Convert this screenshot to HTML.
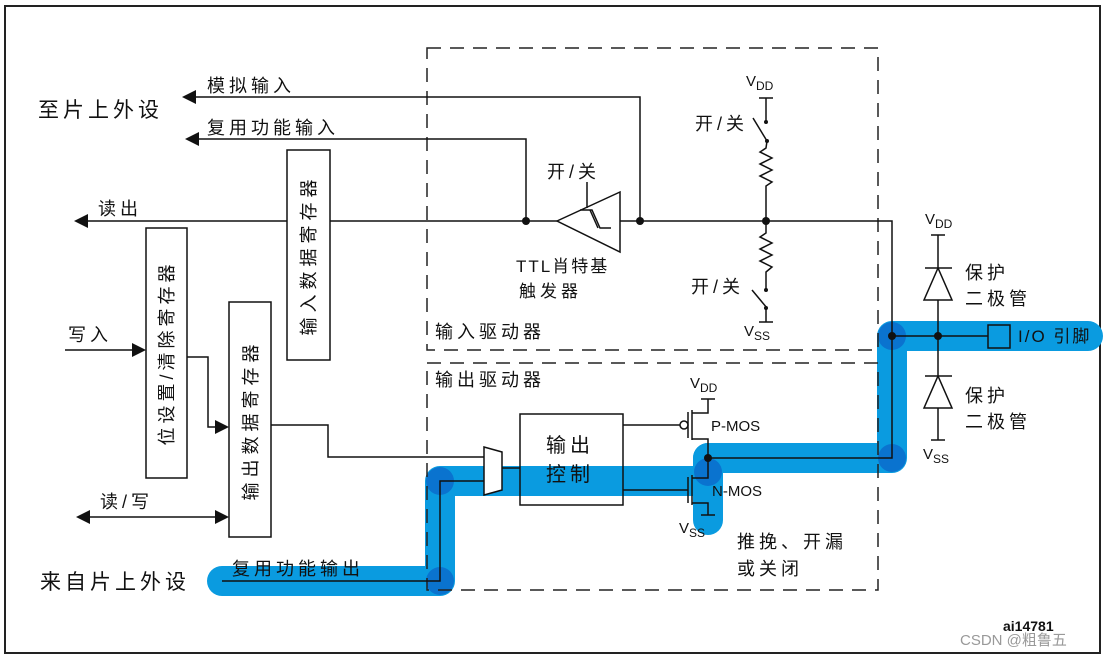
<!DOCTYPE html>
<html><head><meta charset="utf-8"><style>
html,body{margin:0;padding:0;background:#fff;}
svg{display:block;}
text{font-family:"Liberation Sans","Noto Sans CJK SC",sans-serif;fill:#111;}
.cj{letter-spacing:4px;}
</style></head><body>
<svg width="1107" height="660" viewBox="0 0 1107 660" xmlns="http://www.w3.org/2000/svg">
<rect x="5" y="6" width="1095" height="647" fill="#fff" stroke="#222" stroke-width="2"/>
<g stroke="#0a9be0" stroke-width="30" stroke-linecap="round" stroke-linejoin="round" fill="none">
<polyline points="222,581 440,581 440,481 708,481"/>
<polyline points="708,458 892,458 892,336 1088,336"/>
<line x1="708" y1="458" x2="708" y2="520"/>
</g>
<g fill="#0a62c8" opacity="0.7">
<circle cx="440" cy="581" r="14"/><circle cx="440" cy="481" r="14"/>
<circle cx="892" cy="458" r="14"/><circle cx="892" cy="336" r="14"/>
<circle cx="708" cy="472" r="14"/>
</g>
<g stroke="#222" stroke-width="1.5" fill="none" stroke-dasharray="14,9">
<rect x="427" y="48" width="451" height="302"/>
<rect x="427" y="363" width="451" height="227"/>
</g>
<g stroke="#111" stroke-width="1.5" fill="none">
<polyline points="190,97 640,97 640,220"/>
<polyline points="193,139 526,139 526,220"/>
<line x1="82" y1="221" x2="557" y2="221"/>
<polyline points="620,221 892,221 892,458 708,458"/>
<line x1="892" y1="336" x2="988" y2="336"/>
<polygon points="557,221 620,192 620,252"/>
<line x1="587" y1="182" x2="587" y2="208"/>
<polyline points="580,210 592,210 600,228 611,228"/>
<polyline points="590,210 598,228"/>
<rect x="287" y="150" width="43" height="210" fill="#fff"/>
<rect x="146" y="228" width="41" height="250" fill="#fff"/>
<rect x="229" y="302" width="42" height="235" fill="#fff"/>
<line x1="65" y1="350" x2="138" y2="350"/>
<polyline points="187,357 208,357 208,427 221,427"/>
<line x1="84" y1="517" x2="221" y2="517"/>
<polyline points="271,425 328,425 328,457 484,457"/>
<polyline points="222,581 440,581 440,481 484,481"/>
<polygon points="484,447 502,452 502,490 484,495" fill="#fff"/>
<line x1="502" y1="468" x2="520" y2="468"/>
<rect x="520" y="414" width="103" height="91" fill="none"/>
<line x1="623" y1="425" x2="680" y2="425"/>
<circle cx="684" cy="425" r="4" fill="#fff"/>
<line x1="623" y1="490" x2="688" y2="490"/>
<line x1="688" y1="412" x2="688" y2="438"/>
<line x1="692" y1="410" x2="692" y2="440"/>
<polyline points="692,413 708,413 708,399"/>
<line x1="701" y1="399" x2="715" y2="399"/>
<polyline points="692,439 708,439 708,478 692,478"/>
<line x1="688" y1="477" x2="688" y2="503"/>
<line x1="692" y1="475" x2="692" y2="505"/>
<polyline points="692,503 708,503 708,515"/>
<line x1="701" y1="515" x2="715" y2="515"/>
<line x1="759" y1="98" x2="773" y2="98"/>
<line x1="766" y1="98" x2="766" y2="122"/>
<line x1="753" y1="118" x2="767" y2="141"/>
<polyline points="767,141 766,148 760,152 772,158 760,164 772,170 760,176 772,182 766,186 766,233 760,237 772,243 760,249 772,255 760,261 772,267 766,272 766,290"/>
<line x1="752" y1="290" x2="767" y2="308"/>
<line x1="766" y1="308" x2="766" y2="322"/>
<line x1="759" y1="322" x2="773" y2="322"/>
<line x1="931" y1="235" x2="945" y2="235"/>
<line x1="938" y1="235" x2="938" y2="440"/>
<line x1="925" y1="268" x2="952" y2="268"/>
<polygon points="938,268 924,300 952,300" fill="#fff"/>
<line x1="925" y1="376" x2="952" y2="376"/>
<polygon points="938,376 924,408 952,408" fill="#fff"/>
<line x1="931" y1="440" x2="945" y2="440"/>
<rect x="988" y="325" width="22" height="23" fill="none"/>
</g>
<g fill="#111">
<circle cx="526" cy="221" r="4"/><circle cx="640" cy="221" r="4"/><circle cx="766" cy="221" r="4"/>
<circle cx="708" cy="458" r="4"/><circle cx="892" cy="336" r="4"/><circle cx="938" cy="336" r="4"/>
<circle cx="766" cy="122" r="2"/><circle cx="767" cy="141" r="2"/><circle cx="766" cy="290" r="2"/><circle cx="766" cy="308" r="2"/>
<polygon points="182,97 196,90 196,104"/>
<polygon points="185,139 199,132 199,146"/>
<polygon points="74,221 88,214 88,228"/>
<polygon points="146,350 132,343 132,357"/>
<polygon points="229,427 215,420 215,434"/>
<polygon points="76,517 90,510 90,524"/>
<polygon points="229,517 215,510 215,524"/>
</g>
<g font-size="18" class="cj">
<text x="38" y="117" font-size="21" letter-spacing="4">至片上外设</text>
<text x="207" y="92">模拟输入</text>
<text x="207" y="134">复用功能输入</text>
<text x="98" y="215">读出</text>
<text x="68" y="341">写入</text>
<text x="100" y="508">读/写</text>
<text x="40" y="589" font-size="21" letter-spacing="4">来自片上外设</text>
<text x="232" y="575">复用功能输出</text>
<text x="435" y="338">输入驱动器</text>
<text x="435" y="386">输出驱动器</text>
<text x="547" y="178">开/关</text>
<text x="516" y="272" font-size="17" letter-spacing="2">TTL肖特基</text>
<text x="519" y="297" font-size="17">触发器</text>
<text x="695" y="130">开/关</text>
<text x="691" y="293">开/关</text>
<text x="546" y="452" font-size="20">输出</text>
<text x="546" y="481" font-size="20">控制</text>
<text x="737" y="548">推挽、开漏</text>
<text x="737" y="575">或关闭</text>
<text x="965" y="279">保护</text>
<text x="965" y="305">二极管</text>
<text x="965" y="402">保护</text>
<text x="965" y="428">二极管</text>
<text x="1018" y="342" font-size="17" letter-spacing="2">I/O 引脚</text>
</g>
<g font-size="15">
<text x="746" y="86">V<tspan font-size="12" dy="4">DD</tspan></text>
<text x="744" y="336">V<tspan font-size="12" dy="4">SS</tspan></text>
<text x="925" y="224">V<tspan font-size="12" dy="4">DD</tspan></text>
<text x="923" y="459">V<tspan font-size="12" dy="4">SS</tspan></text>
<text x="690" y="388">V<tspan font-size="12" dy="4">DD</tspan></text>
<text x="679" y="533">V<tspan font-size="12" dy="4">SS</tspan></text>
<text x="711" y="431">P-MOS</text>
<text x="712" y="496">N-MOS</text>
</g>
<g font-size="18">
<text transform="translate(315,255) rotate(-90)" text-anchor="middle" letter-spacing="5">输入数据寄存器</text>
<text transform="translate(173,353) rotate(-90)" text-anchor="middle" letter-spacing="4">位设置/清除寄存器</text>
<text transform="translate(257,420) rotate(-90)" text-anchor="middle" letter-spacing="5">输出数据寄存器</text>
</g>
<text x="1003" y="631" font-size="14" font-weight="bold" fill="#333">ai14781</text>
<text x="960" y="645" font-size="15" style="fill:#999">CSDN @粗鲁五</text>
</svg>
</body></html>
